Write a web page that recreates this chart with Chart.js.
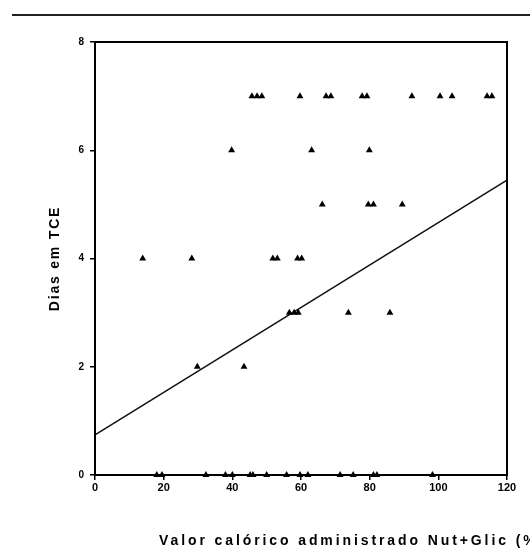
<!DOCTYPE html>
<html>
<head>
<meta charset="utf-8">
<script src="https://cdn.jsdelivr.net/npm/chart.js@4.4.0/dist/chart.umd.min.js"></script>
<style>
  body { margin: 0; background: #fff; overflow: hidden; }
  #wrap { position: relative; width: 530px; height: 558px; }
  #topline { position: absolute; top: 14px; left: 12px; right: 0; border-top: 2px solid #222; }
</style>
</head>
<body>
<div id="wrap">
  <div id="topline"></div>
  <canvas id="myChart"></canvas>
</div>
<script>
// points: x = Valor calórico (%), y = Dias em TCE
const valorCalorico = [
  45.7, 47.2, 48.6, 59.7, 67.3, 68.7, 77.8, 79.2, 92.3, 100.5, 104, 114.2, 115.6,
  39.8, 63.1, 79.9,
  66.2, 79.6, 81.1, 89.5,
  13.9, 28.2, 51.8, 53.1, 59, 60.2,
  56.6, 58, 59.2, 73.8, 85.9,
  29.8, 43.4,
  18, 19.5, 32.3, 38, 40, 45.2, 46, 50, 55.8, 59.7, 62, 71.4, 75.2, 81.1, 82.1, 98.3
];
const diasEmTce = [
  7, 7, 7, 7, 7, 7, 7, 7, 7, 7, 7, 7, 7,
  6, 6, 6,
  5, 5, 5, 5,
  4, 4, 4, 4, 4, 4,
  3, 3, 3, 3, 3,
  2, 2,
  0, 0, 0, 0, 0, 0, 0, 0, 0, 0, 0, 0, 0, 0, 0, 0
];
// fitted line ends
const retaX = [0, 120];
const retaY = [0.74, 5.45];

const xTicks = [0, 20, 40, 60, 80, 100, 120];
const yTicks = [0, 2, 4, 6, 8];

const pontos = valorCalorico.map((v, i) => ({ x: v, y: diasEmTce[i] }));
const reta = retaX.map((v, i) => ({ x: v, y: retaY[i] }));

/////////////////// frame + axis titles ///////////////////
const framePlugin = {
  id: "frame",
  afterDraw(chart) {
    const ctx = chart.ctx;
    const a = chart.chartArea;
    ctx.save();
    ctx.strokeStyle = "#000";
    ctx.lineWidth = 2;
    ctx.strokeRect(a.left, a.top, a.right - a.left, a.bottom - a.top);
    ctx.fillStyle = "#000";
    ctx.font = "bold 14px 'Liberation Sans', Arial, sans-serif";
    ctx.letterSpacing = "2.9px";
    ctx.textBaseline = "middle";
    // x title starts left of centre and runs off the right edge
    ctx.fillText("Valor calórico administrado Nut+Glic (%)", a.left + 64, 541);
    // y title
    ctx.translate(55, (a.top + a.bottom) / 2);
    ctx.rotate(-Math.PI / 2);
    ctx.textAlign = "center";
    ctx.letterSpacing = "1.8px";
    ctx.fillText("Dias em TCE", 0, 0);
    ctx.restore();
  }
};

const data = {
  datasets: [
    {
      type: "scatter",
      label: "Dias em TCE",
      data: pontos,
      pointStyle: "triangle",
      pointRadius: 4,
      backgroundColor: "#000",
      borderColor: "#000",
      borderWidth: 0,
      clip: false
    },
    {
      type: "line",
      label: "reta",
      data: reta,
      borderColor: "#111",
      borderWidth: 1.5,
      pointRadius: 0,
      fill: false
    }
  ]
};

const config = {
  type: "scatter",
  data: data,
  options: {
    responsive: true,
    maintainAspectRatio: false,
    animation: false,
    layout: { padding: { left: 40, right: 23, top: 42, bottom: 0 } },
    plugins: { legend: { display: false }, tooltip: { enabled: false } },
    scales: {
      x: {
        type: "linear",
        min: 0,
        max: 120,
        afterBuildTicks: (s) => { s.ticks = xTicks.map((v) => ({ value: v })); },
        afterFit: (s) => { s.height = 83; },
        grid: { drawOnChartArea: false, tickLength: 5, color: "#000", lineWidth: 1.5 },
        border: { display: true, color: "#000", width: 2 },
        ticks: { color: "#000", font: { size: 11, weight: "bold", family: "'Liberation Sans', Arial" }, padding: 1, maxRotation: 0 }
      },
      y: {
        type: "linear",
        min: 0,
        max: 8,
        afterBuildTicks: (s) => { s.ticks = yTicks.map((v) => ({ value: v })); },
        afterFit: (s) => { s.width = 55; },
        grid: { drawOnChartArea: false, tickLength: 5, color: "#000", lineWidth: 1.5 },
        border: { display: true, color: "#000", width: 2 },
        ticks: { color: "#000", font: { size: 10, weight: "bold", family: "'Liberation Sans', Arial" }, padding: 6 }
      }
    }
  },
  plugins: [framePlugin]
};

const myChart = new Chart(document.getElementById("myChart"), config);
</script>
</body>
</html>
